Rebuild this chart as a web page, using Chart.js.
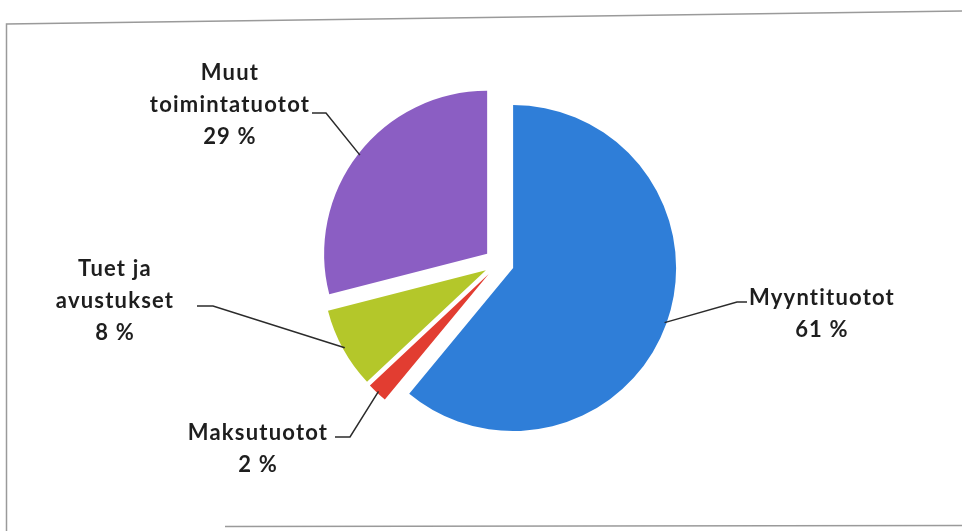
<!DOCTYPE html>
<html>
<head>
<meta charset="utf-8">
<script src="https://cdn.jsdelivr.net/npm/chart.js@4"></script>
<style>
  html, body { margin: 0; padding: 0; background: #ffffff; }
  #wrap { width: 962px; height: 531px; position: relative; }
</style>
</head>
<body>
<div id="wrap"><canvas id="c" width="962" height="531"></canvas></div>
<script>
// ---- data ----
const categories = ['Myyntituotot', 'Maksutuotot', 'Tuet ja avustukset', 'Muut toimintatuotot'];
const values = [61, 2, 8, 29];
const labelLines = [['Myyntituotot'], ['Maksutuotot'], ['Tuet ja', 'avustukset'], ['Muut', 'toimintatuotot']];
const colors = ['#2F7ED8', '#E23D31', '#B4C72A', '#8B5EC3'];

// ---- styling / layout ----
const EXPLODE = 15;
const labelLayout = [
  { cx: 822, y0: 298, lead: [[747, 302], [737, 302]] },
  { cx: 258, y0: 433, lead: [[335, 437], [350, 437]] },
  { cx: 115, y0: 269, lead: [[197, 306], [213, 306]] },
  { cx: 230, y0: 73,  lead: [[312, 113], [326, 113]] }
];
const LINE_H = 32;

const framePlugin = {
  id: 'frame',
  beforeDraw(chart) {
    const ctx = chart.ctx;
    ctx.save();
    ctx.fillStyle = '#ffffff';
    ctx.fillRect(0, 0, chart.width, chart.height);
    ctx.strokeStyle = '#9a9a9a';
    ctx.lineWidth = 1.5;
    ctx.beginPath();
    ctx.moveTo(6.5, 531); ctx.lineTo(6.5, 24); ctx.lineTo(962, 11);
    ctx.stroke();
    ctx.beginPath();
    ctx.moveTo(225, 526.5); ctx.lineTo(962, 525.5);
    ctx.stroke();
    ctx.restore();
  }
};

const explodePlugin = {
  id: 'explode',
  beforeDatasetsDraw(chart) {
    const ctx = chart.ctx;
    const meta = chart.getDatasetMeta(0);
    meta.data.forEach((arc) => {
      const mid = (arc.startAngle + arc.endAngle) / 2;
      ctx.save();
      ctx.translate(Math.cos(mid) * EXPLODE, Math.sin(mid) * EXPLODE);
      arc.draw(ctx);
      ctx.restore();
    });
    return false;
  }
};

const labelPlugin = {
  id: 'leaderLabels',
  afterDraw(chart) {
    const ctx = chart.ctx;
    const meta = chart.getDatasetMeta(0);
    ctx.save();
    meta.data.forEach((arc, i) => {
      const lay = labelLayout[i];
      const mid = (arc.startAngle + arc.endAngle) / 2;
      const rr = arc.outerRadius + EXPLODE - 2;
      const ex = arc.x + Math.cos(mid) * rr;
      const ey = arc.y + Math.sin(mid) * rr;
      ctx.strokeStyle = '#2b2b2b';
      ctx.lineWidth = 1.5;
      ctx.beginPath();
      ctx.moveTo(lay.lead[0][0], lay.lead[0][1]);
      ctx.lineTo(lay.lead[1][0], lay.lead[1][1]);
      ctx.lineTo(ex, ey);
      ctx.stroke();

      const lines = labelLines[i].concat([values[i] + ' %']);
      ctx.fillStyle = '#1e1e1e';
      ctx.font = 'bold 22px Lato';
      ctx.letterSpacing = '1.2px';
      ctx.textAlign = 'center';
      ctx.textBaseline = 'middle';
      lines.forEach((t, k) => ctx.fillText(t, lay.cx, lay.y0 + k * LINE_H));
    });
    ctx.restore();
  }
};

new Chart(document.getElementById('c'), {
  type: 'pie',
  data: {
    labels: categories,
    datasets: [{
      data: values,
      backgroundColor: colors,
      borderWidth: 0,
      offset: 0
    }]
  },
  options: {
    responsive: false,
    animation: false,
    devicePixelRatio: 1,
    layout: { padding: { left: 329, right: 293, top: 100, bottom: 105 } },
    plugins: {
      legend: { display: false },
      tooltip: { enabled: false }
    }
  },
  plugins: [framePlugin, explodePlugin, labelPlugin]
});
</script>
</body>
</html>
